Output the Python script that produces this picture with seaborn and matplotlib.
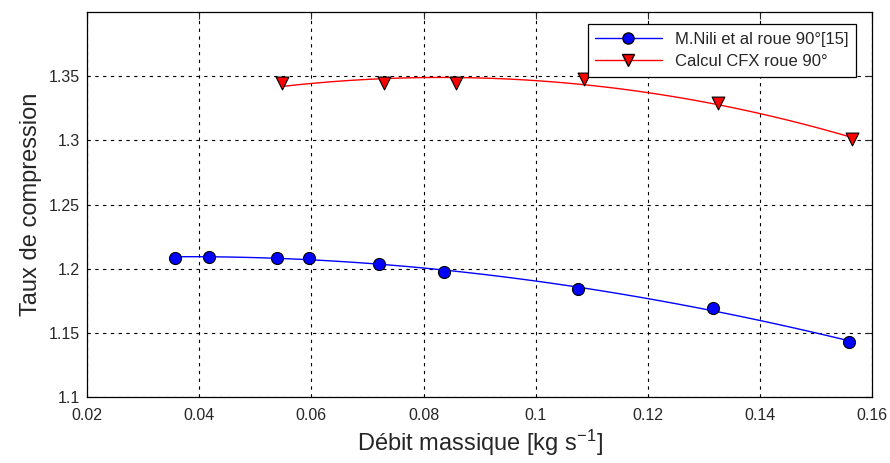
import numpy as np
import pandas as pd
import matplotlib
matplotlib.use('Agg')
import matplotlib.pyplot as plt
from matplotlib.lines import Line2D
import seaborn as sns

# values
nili_debit = [0.0357, 0.0418, 0.0538, 0.0596, 0.0720, 0.0836, 0.1075, 0.1316, 0.1559]
nili_taux = [1.2086, 1.2094, 1.2086, 1.2080, 1.2039, 1.1977, 1.1844, 1.1690, 1.1432]
cfx_debit = [0.0548, 0.0729, 0.0857, 0.1086, 0.1325, 0.1564]
cfx_taux = [1.3450, 1.3450, 1.3450, 1.3477, 1.3290, 1.3008]

labels = ['M.Nili et al roue 90°[15]', 'Calcul CFX roue 90°']
xticks = [0.02, 0.04, 0.06, 0.08, 0.1, 0.12, 0.14, 0.16]
yticks = [1.1, 1.15, 1.2, 1.25, 1.3, 1.35]

nili = pd.DataFrame({'debit': nili_debit, 'taux': nili_taux})
cfx = pd.DataFrame({'debit': cfx_debit, 'taux': cfx_taux})

sns.set_style('white')
plt.rcParams['font.family'] = ['Liberation Sans', 'DejaVu Sans']
plt.rcParams['mathtext.fontset'] = 'custom'
plt.rcParams['mathtext.rm'] = 'Liberation Sans'
plt.rcParams['mathtext.it'] = 'Liberation Sans'

fig = plt.figure(figsize=(8.9, 4.63), dpi=100)
ax = fig.add_axes([0.0978, 0.1425, 0.8822, 0.8315])

# fitted curves (smooth lines), then the measured points
sns.regplot(x='debit', y='taux', data=nili, order=3, ci=None, scatter=False,
            line_kws={'color': 'blue', 'lw': 1.0}, ax=ax)
sns.regplot(x='debit', y='taux', data=cfx, order=2, ci=None, scatter=False,
            line_kws={'color': 'red', 'lw': 1.0}, ax=ax)
sns.scatterplot(x='debit', y='taux', data=nili, marker='o', color='blue',
                edgecolor='black', linewidth=0.8, s=75, zorder=5, ax=ax)
sns.scatterplot(x='debit', y='taux', data=cfx, marker='v', color='red',
                edgecolor='black', linewidth=0.8, s=85, zorder=5, ax=ax)

ax.set_xlim(0.02, 0.16)
ax.set_ylim(1.1, 1.4)
ax.set_xticks(xticks)
ax.set_xticklabels(['0.02', '0.04', '0.06', '0.08', '0.1', '0.12', '0.14', '0.16'])
ax.set_yticks(yticks)
ax.set_yticklabels(['1.1', '1.15', '1.2', '1.25', '1.3', '1.35'])
ax.tick_params(direction='in', length=5, width=0.8, labelsize=11.5, top=True, right=True,
               labeltop=False, labelright=False)
ax.tick_params(axis='x', pad=8)
ax.tick_params(axis='y', pad=5)
ax.grid(True, color='black', linestyle=(0, (3, 4)), linewidth=0.8)
for sp in ax.spines.values():
    sp.set_color('black')
    sp.set_linewidth(0.9)

ax.set_xlabel('Débit massique [kg s$^{-1}$]', fontsize=17, labelpad=3)
ax.set_ylabel('Taux de compression', fontsize=17, labelpad=5)

handles = [
    Line2D([], [], color='blue', marker='o', markerfacecolor='blue',
           markeredgecolor='black', markersize=8, lw=1.0),
    Line2D([], [], color='red', marker='v', markerfacecolor='red',
           markeredgecolor='black', markersize=9, lw=1.0),
]
leg = ax.legend(handles, labels, loc='upper right', bbox_to_anchor=(0.99, 0.99),
                fontsize=12, frameon=True, fancybox=False, framealpha=1,
                edgecolor='black', handlelength=4.0, borderpad=0.45,
                labelspacing=0.45)
leg.get_frame().set_linewidth(0.9)

fig.savefig('out.png', dpi=100)
